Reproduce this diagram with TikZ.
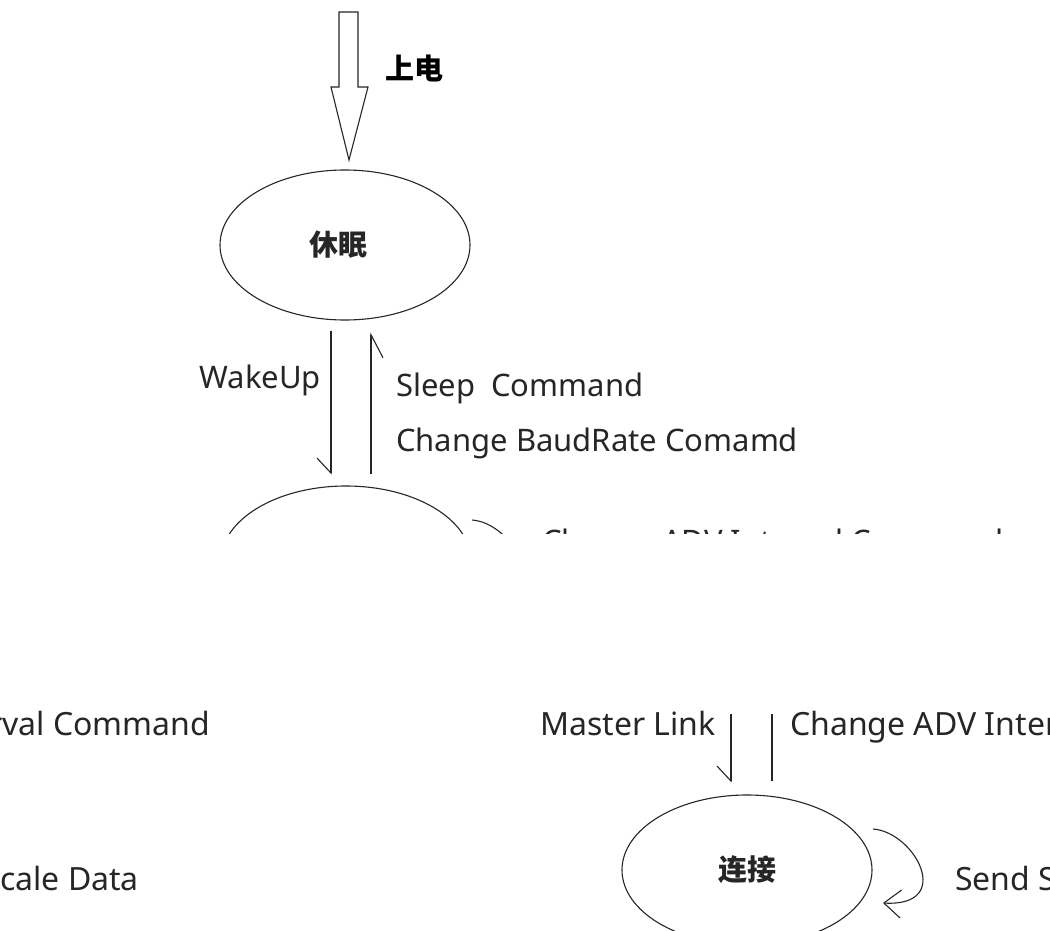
\documentclass[tikz,border=0pt]{standalone}
\usepackage{fontspec}
\setmainfont{Noto Sans}
\newfontfamily\cjk{Noto Sans CJK SC}
\usetikzlibrary{arrows.meta,shapes.geometric}

\tikzset{
  wire/.style={line width=1.1pt, black!85},
  state/.style={wire, draw, ellipse, minimum width=250pt, minimum height=150pt,
                inner sep=0pt, font=\cjk\bfseries\fontsize{29}{29}\selectfont},
  txt/.style={inner sep=0pt, text=black!85, font=\fontsize{31}{31}\selectfont},
  lowtxt/.style={txt, font=\fontsize{32}{32}\selectfont},
  hanzi/.style={inner sep=0pt, font=\cjk\bfseries\fontsize{29}{29}\selectfont},
  dn/.style={wire, -{Straight Barb[harpoon, swap, length=15pt, width=28pt]}},
  up/.style={wire, -{Straight Barb[harpoon, swap, length=23pt, width=24pt]}},
  selfloop/.style={wire, -{Straight Barb[length=17pt, width=28pt]}}
}

\begin{document}
\begin{tikzpicture}[x=1pt, y=-1pt]
\useasboundingbox[fill=white] (0,0) rectangle (1050,931);
\clip (0,0) rectangle (1050,931);

% power on
\draw[wire] (339,12) -- (358,12) -- (358,87) -- (368,87) -- (349,160)
  -- (331,87) -- (339,87) -- cycle;
\node[hanzi, anchor=west] (pwr) at (385,68) {上电};

\node[state] (sleep) at (345,245) {\hspace*{-14pt}休眠};

% advertising state, only its top survives
\begin{scope}
  \clip (0,0) rectangle (1050,533);
  \node[state] (adv) at (346,561) {};
  \draw[selfloop] ([shift={(126,-41)}]adv.center)
    .. controls ([shift={(168,-38)}]adv.center) and ([shift={(208,37)}]adv.center)
    .. ([shift={(136,33)}]adv.center);
  \node[txt, anchor=base west] (advint) at (542,552) {Change ADV Interval Command};
\end{scope}

\draw[dn, shorten <=10pt, shorten >=11pt] ([xshift=-14pt]sleep.south) -- ([xshift=-15pt]adv.north);
\draw[up, shorten <=11pt, shorten >=12pt] ([xshift=25pt]adv.north) -- ([xshift=26pt]sleep.south);

\node[txt, anchor=base east] (wake) at (321,388) {WakeUp};
\node[txt, anchor=base west] (sleepcmd) at (396,396) {Sleep~ Command};
\node[txt, anchor=base west] (baud) at (396,451) {Change BaudRate Comamd};

% connected state
\node[state] (conn) at (747,870) {连接};
\coordinate (mtop) at (731,714);
\coordinate (ctop) at (772,714);
\draw[dn, shorten >=12pt] (mtop) -- ([xshift=-16pt]conn.north);
\draw[wire, shorten <=13pt] ([xshift=25pt]conn.north) -- (ctop);
\draw[selfloop] ([shift={(126,-41)}]conn.center)
  .. controls ([shift={(168,-38)}]conn.center) and ([shift={(208,37)}]conn.center)
  .. ([shift={(136,33)}]conn.center);

\node[lowtxt, anchor=base east] (mlink) at (716,735) {Master Link};
\foreach \dx/\k in {0/a,-1056/b}
{
  \node[lowtxt, anchor=base west] (chadv-\k) at (790+\dx,735) {Change ADV Interval Command};
  \node[lowtxt, anchor=base west] (scale-\k) at (955+\dx,890) {Send Scale Data};
}
\end{tikzpicture}
\end{document}
